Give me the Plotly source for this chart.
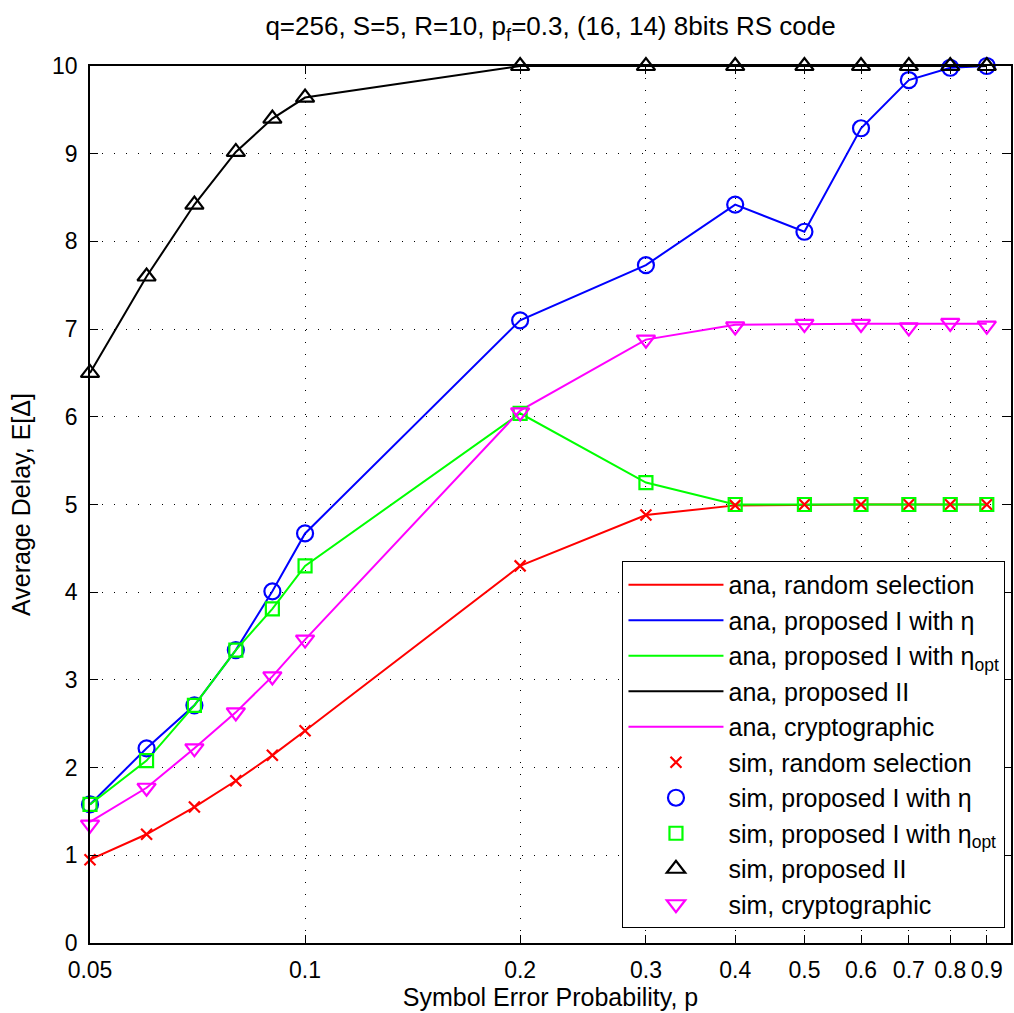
import plotly.graph_objects as go
import math

p = [0.05, 0.06, 0.07, 0.08, 0.09, 0.1, 0.2, 0.3, 0.4, 0.5, 0.6, 0.7, 0.8, 0.9]

ana_random = [0.95, 1.24, 1.55, 1.85, 2.14, 2.42, 4.30, 4.88, 4.99, 5.00, 5.00, 5.00, 5.00, 5.00]
ana_prop1 = [1.58, 2.22, 2.71, 3.34, 4.01, 4.67, 7.10, 7.73, 8.42, 8.11, 9.29, 9.84, 9.98, 10.0]
ana_prop1_opt = [1.58, 2.08, 2.71, 3.34, 3.81, 4.30, 6.04, 5.25, 5.00, 5.00, 5.00, 5.00, 5.00, 5.00]
ana_prop2 = [6.50, 7.60, 8.42, 9.02, 9.40, 9.64, 10.0, 10.0, 10.0, 10.0, 10.0, 10.0, 10.0, 10.0]
ana_crypto = [1.38, 1.77, 2.22, 2.63, 3.04, 3.46, 6.07, 6.88, 7.05, 7.06, 7.06, 7.06, 7.06, 7.06]

sim_random = [0.95, 1.24, 1.55, 1.85, 2.14, 2.42, 4.30, 4.88, 4.99, 5.00, 5.00, 5.00, 5.00, 5.00]
sim_prop1 = [1.58, 2.22, 2.71, 3.34, 4.01, 4.67, 7.10, 7.73, 8.42, 8.11, 9.29, 9.84, 9.98, 10.0]
sim_prop1_opt = [1.58, 2.08, 2.71, 3.34, 3.81, 4.30, 6.04, 5.25, 5.00, 5.00, 5.00, 5.00, 5.00, 5.00]
sim_prop2 = [6.50, 7.60, 8.42, 9.02, 9.40, 9.64, 10.0, 10.0, 10.0, 10.0, 10.0, 10.0, 10.0, 10.0]
sim_crypto = [1.35, 1.77, 2.22, 2.63, 3.04, 3.46, 6.05, 6.88, 7.03, 7.06, 7.06, 7.02, 7.07, 7.04]

xtick_vals = [0.05, 0.1, 0.2, 0.3, 0.4, 0.5, 0.6, 0.7, 0.8, 0.9]
xtick_text = ["0.05", "0.1", "0.2", "0.3", "0.4", "0.5", "0.6", "0.7", "0.8", "0.9"]

RED, BLUE, GREEN, BLACK, MAG = "#ff0000", "#0000ff", "#00ff00", "#000000", "#ff00ff"

fig = go.Figure()

lines = [
    ("ana, random selection", ana_random, RED),
    ("ana, proposed I with η", ana_prop1, BLUE),
    ("ana, proposed I with η<sub>opt</sub>", ana_prop1_opt, GREEN),
    ("ana, proposed II", ana_prop2, BLACK),
    ("ana, cryptographic", ana_crypto, MAG),
]
for i, (name, y, c) in enumerate(lines):
    fig.add_trace(go.Scatter(x=p, y=y, mode="lines", name=name, cliponaxis=False,
                             line=dict(color=c, width=2), legendgroup=f"l{i}"))

sims = [
    ("sim, random selection", sim_random, RED, "x-thin", 11),
    ("sim, proposed I with η", sim_prop1, BLUE, "circle-open", 16),
    ("sim, proposed I with η<sub>opt</sub>", sim_prop1_opt, GREEN, "square-open", 13),
    ("sim, proposed II", sim_prop2, BLACK, "triangle-up-open", 16),
    ("sim, cryptographic", sim_crypto, MAG, "triangle-down-open", 16),
]
for i, (name, y, c, sym, sz) in enumerate(sims):
    fig.add_trace(go.Scatter(x=p, y=y, mode="markers", name=name, cliponaxis=False,
                             marker=dict(symbol=sym, size=sz, color=c,
                                         line=dict(color=c, width=2.2)),
                             legendgroup=f"s{i}"))

font_main = "Liberation Sans, Arial, sans-serif"

fig.update_layout(
    width=1014, height=1013,
    margin=dict(l=90, r=1, t=66, b=70),
    paper_bgcolor="white", plot_bgcolor="white",
    font=dict(family=font_main, color="black", size=23),
    title=dict(text="q=256, S=5, R=10, p<sub>f</sub>=0.3, (16, 14) 8bits RS code",
               x=0.5, xref="paper", xanchor="center", y=0.974, yanchor="middle",
               font=dict(size=26)),
    showlegend=True,
    legend=dict(x=0.994, y=0.4356, xanchor="right", yanchor="top",
                bgcolor="white", bordercolor="black", borderwidth=1,
                font=dict(size=25), itemwidth=95, tracegroupgap=0,
                itemsizing="trace"),
)

fig.update_xaxes(
    type="log", range=[math.log10(0.05), math.log10(0.973)],
    tickvals=xtick_vals, ticktext=xtick_text,
    ticks="inside", ticklen=8, tickcolor="black", tickwidth=1,
    showline=True, linecolor="black", linewidth=1.5, mirror="ticks",
    showgrid=True, gridcolor="black", gridwidth=1, griddash="1px,11px",
    zeroline=False, tickfont=dict(size=23), ticklabelstandoff=6,
    title=dict(text="Symbol Error Probability, p", font=dict(size=25), standoff=2),
)
fig.update_yaxes(
    range=[0, 10], dtick=1, tick0=0,
    ticks="inside", ticklen=8, tickcolor="black", tickwidth=1,
    showline=True, linecolor="black", linewidth=1.5, mirror="ticks",
    showgrid=True, gridcolor="black", gridwidth=1, griddash="1px,11px",
    zeroline=False, tickfont=dict(size=23), ticklabelstandoff=6,
    title=dict(text="Average Delay, E[Δ]", font=dict(size=25), standoff=14),
)

fig.write_html("out.html")
